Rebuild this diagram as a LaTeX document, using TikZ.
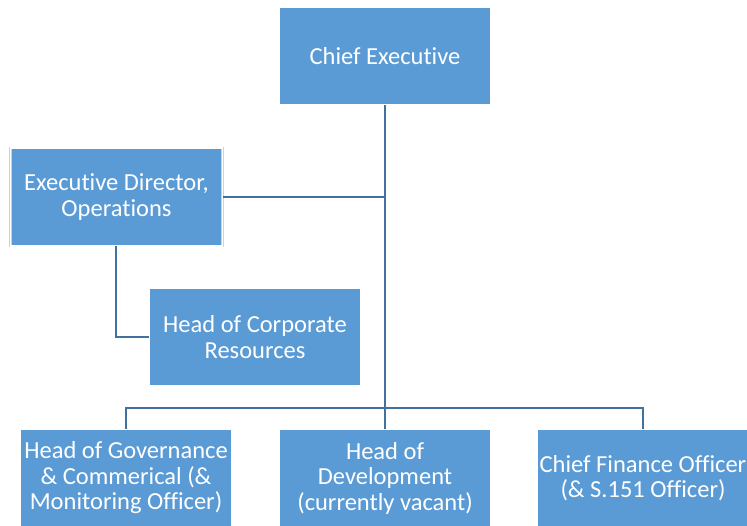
\documentclass[tikz,border=0pt]{standalone}
\usepackage{fontspec}
\setmainfont[Ligatures=NoCommon]{Carlito}
\begin{document}
\begin{tikzpicture}[x=1pt,y=1pt,
  rolebox/.style={draw=black!18, double=white, double distance=1.6pt, line width=0.4pt,
    fill=boxblue, text=white, minimum width=212pt, minimum height=98pt,
    inner sep=0pt, align=center, font=\fontsize{24.5}{25.5}\selectfont},
  link/.style={draw=lineblue, line width=2pt}]
\definecolor{boxblue}{HTML}{5B9BD5}
\definecolor{lineblue}{HTML}{41719C}
\useasboundingbox (0,0) rectangle (747,525);
\clip (0,0) rectangle (747,525);
\fill[white] (0,0) rectangle (747,525);

% junction points of the reporting lines
\coordinate (bus) at (385,117);
\coordinate (edturn) at (116,188);

\node[rolebox] (ce)  at (385,469) {Chief Executive};
\node[rolebox] (ed)  at (116.5,328) {Executive Director,\\Operations};
\node[rolebox] (hcr) at (255,188) {Head of Corporate\\Resources};
\node[rolebox] (gov) at (126,47) {Head of Governance\\\& Commerical (\&\\Monitoring Officer)};
\node[rolebox] (dev) at (385,47) {Head of\\Development\\(currently vacant)};
\node[rolebox] (cfo) at (643,47) {Chief Finance Officer\\(\& S.151 Officer)};

% reporting lines
\path[link] (ce.south) -- (ce.south |- bus);
\path[link] (ed.east) -- (ed.east -| bus);
\path[link] (ed.south -| edturn) -- (edturn) -- (hcr.west |- edturn);
\path[link] (gov.north) -- (gov.north |- bus) -- (cfo.north |- bus) -- (cfo.north);
\path[link] (dev.north) -- (dev.north |- bus);
\end{tikzpicture}
\end{document}
